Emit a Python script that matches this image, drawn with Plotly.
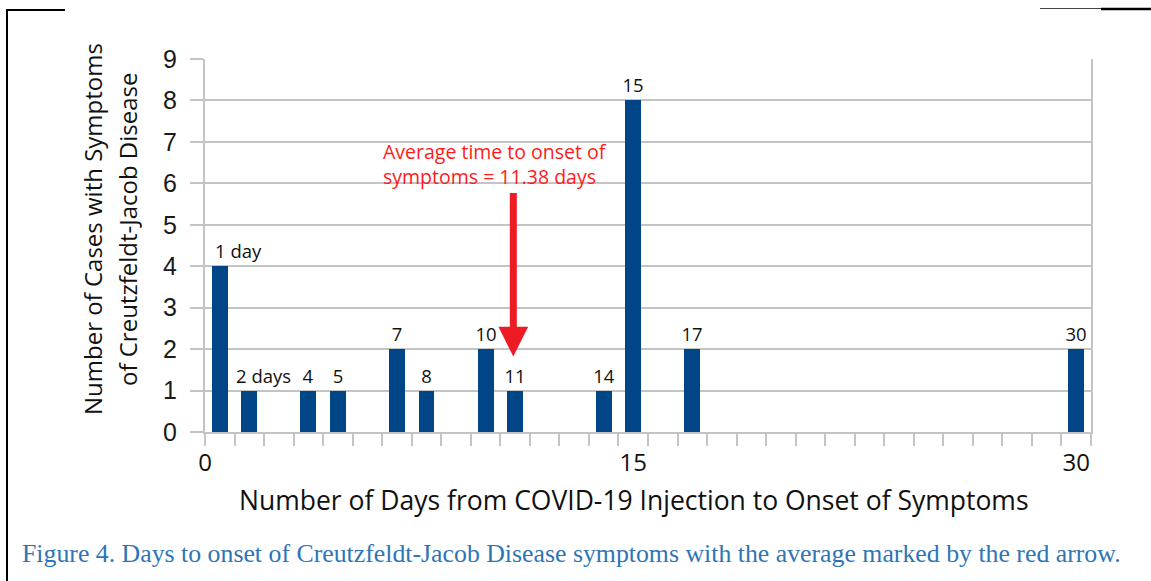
import plotly.graph_objects as go

# ---- data ----
DAYS  = [1, 2, 4, 5, 7, 8, 10, 11, 14, 15, 17, 30]
CASES = [4, 1, 1, 1, 2, 1, 2, 1, 1, 8, 2, 2]
BAR_LABELS = ["", "", "4", "5", "7", "8", "10", "11", "14", "15", "17", "30"]
SIDE_LABELS = {1: "1 day", 2: "2 days"}

X_LABEL_POS = [0.5, 15, 30]
X_LABELS    = ["0", "15", "30"]

AVG_TEXT  = "Average time to onset of<br>symptoms = 11.38 days"
ARROW_X    = 10.94
ARROW_TIP  = 1.82
ARROW_TAIL = 5.80

X_TITLE  = "Number of Days from COVID-19 Injection to Onset of Symptoms"
Y_TITLE  = ["Number of Cases with Symptoms", "of Creutzfeldt-Jacob Disease"]
CAPTION  = ("Figure 4. Days to onset of Creutzfeldt-Jacob Disease symptoms "
            "with the average marked by the red arrow.")

# ---- geometry (pixels of the 1151x581 page) ----
W, H = 1151, 581
PL, PR, PT, PB = 205, 1091, 59, 432

BAR_COLOR  = "#004586"
GRID_COLOR = "#c4c4c4"
RED        = "#ed1c24"
SANS       = "Open Sans, sans-serif"


def paper_x(px):
    return (px - PL) / (PR - PL)


def paper_y(py):
    return (PB - py) / (PB - PT)


fig = go.Figure(go.Bar(
    x=DAYS, y=CASES,
    width=0.54,
    marker=dict(color=BAR_COLOR, line=dict(width=0)),
    text=BAR_LABELS,
    textposition="outside",
    constraintext="none",
    cliponaxis=False,
    textfont=dict(family=SANS, size=18.5, color="#111"),
    hoverinfo="x+y",
))

# overlay axis only for the 0 / 15 / 30 labels
fig.add_trace(go.Scatter(x=[], y=[], xaxis="x2", showlegend=False))

annotations = []

# "1 day" / "2 days" sit left-aligned over their bars
for day, shift in [(1, -7), (2, -15)]:
    annotations.append(dict(
        x=day, y=CASES[DAYS.index(day)], xref="x", yref="y",
        text=SIDE_LABELS[day], showarrow=False,
        xanchor="left", yanchor="bottom", xshift=shift, yshift=1,
        font=dict(family=SANS, size=18.5, color="#111"),
    ))

# red arrow + note
annotations.append(dict(
    x=ARROW_X, y=ARROW_TIP, ax=ARROW_X, ay=ARROW_TAIL,
    xref="x", yref="y", axref="x", ayref="y",
    text="", showarrow=True,
    arrowhead=2, arrowsize=0.85, arrowwidth=7, arrowcolor=RED, standoff=0,
))
annotations.append(dict(
    x=paper_x(381), y=paper_y(164), xref="paper", yref="paper",
    text=AVG_TEXT, showarrow=False, align="left",
    xanchor="left", yanchor="middle",
    font=dict(family=SANS, size=19.5, color="#ff1a1a"),
))

# axis titles
annotations.append(dict(
    x=paper_x(634), y=paper_y(500), xref="paper", yref="paper",
    text=X_TITLE, showarrow=False, xanchor="center", yanchor="middle",
    font=dict(family=SANS, size=26.5, color="#111"),
))
for cx, line in zip([92, 127], Y_TITLE):
    annotations.append(dict(
        x=paper_x(cx), y=paper_y(229), xref="paper", yref="paper",
        text=line, showarrow=False, textangle=-90,
        xanchor="center", yanchor="middle",
        font=dict(family=SANS, size=24, color="#111"),
    ))

# caption
annotations.append(dict(
    x=paper_x(20), y=paper_y(553), xref="paper", yref="paper",
    text=CAPTION, showarrow=False, xanchor="left", yanchor="middle",
    font=dict(family="Liberation Serif, serif", size=25.8, color="#2e75b6"),
))

# page border fragments
shapes = [
    dict(type="line", xref="paper", yref="paper",
         x0=paper_x(7), x1=paper_x(7), y0=paper_y(10), y1=paper_y(H + 5),
         line=dict(color="black", width=2)),
    dict(type="line", xref="paper", yref="paper",
         x0=paper_x(6), x1=paper_x(65), y0=paper_y(10), y1=paper_y(10),
         line=dict(color="black", width=2)),
    dict(type="line", xref="paper", yref="paper",
         x0=paper_x(1040), x1=paper_x(1101), y0=paper_y(8.5), y1=paper_y(8.5),
         line=dict(color="#444", width=1)),
    dict(type="line", xref="paper", yref="paper",
         x0=paper_x(1101), x1=paper_x(W + 5), y0=paper_y(9), y1=paper_y(9),
         line=dict(color="black", width=2.5)),
]

fig.update_layout(
    width=W, height=H,
    margin=dict(l=PL, r=W - PR, t=PT, b=H - PB),
    plot_bgcolor="white", paper_bgcolor="white",
    showlegend=False,
    bargap=0,
    annotations=annotations,
    shapes=shapes,
    xaxis=dict(
        range=[0.5, 30.5], fixedrange=True,
        tickmode="linear", tick0=0.5, dtick=1,
        ticks="outside", ticklen=12, tickwidth=2, tickcolor=GRID_COLOR,
        showticklabels=False, showgrid=False, zeroline=False,
        showline=True, linecolor=GRID_COLOR, linewidth=2,
    ),
    xaxis2=dict(
        range=[0.5, 30.5], overlaying="x", side="bottom", anchor="y",
        tickmode="array", tickvals=X_LABEL_POS, ticktext=X_LABELS,
        ticks="", ticklabelstandoff=14, showgrid=False, zeroline=False,
        showline=False,
        tickfont=dict(family=SANS, size=24, color="#111"),
    ),
    yaxis=dict(
        range=[0, 9], fixedrange=True, dtick=1,
        showgrid=True, gridcolor=GRID_COLOR, gridwidth=2,
        ticks="outside", ticklen=13, tickwidth=2, tickcolor=GRID_COLOR,
        ticklabelstandoff=8, zeroline=False,
        showline=True, linecolor=GRID_COLOR, linewidth=2, mirror=True,
        tickfont=dict(family="Liberation Sans, Arial, sans-serif",
                      size=25, color="#1a1a1a"),
    ),
)

# drop the default 8px body margin so the figure fills the window exactly
fig.write_html("out.html",
               config={"displayModeBar": False},
               post_script="document.body.style.margin='0';")
